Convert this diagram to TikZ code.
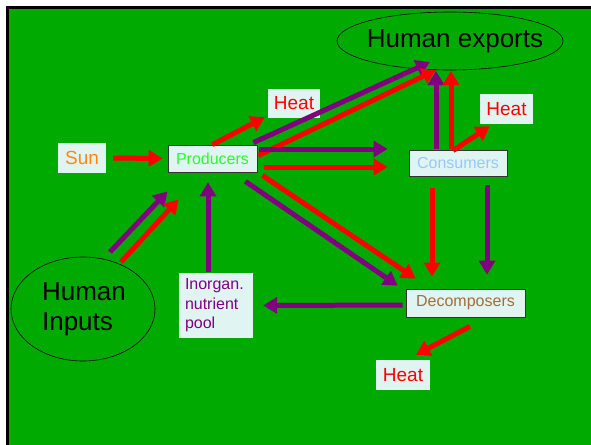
\documentclass[tikz,border=0pt]{standalone}
\usepackage{fontspec}
\setmainfont{Liberation Sans}
\usetikzlibrary{arrows.meta,calc,shapes.geometric}
\definecolor{bggreen}{RGB}{0,170,0}
\definecolor{boxfill}{RGB}{224,245,242}
\definecolor{flowpurple}{RGB}{128,0,128}
\definecolor{sunorange}{RGB}{255,136,17}
\definecolor{prodgreen}{RGB}{40,255,40}
\definecolor{conblue}{RGB}{150,200,255}
\definecolor{decbrown}{RGB}{160,110,60}
\begin{document}
\begin{tikzpicture}[x=1pt,y=1pt,yscale=-1,
  flow/.style={line width=5pt,-{Triangle[length=14pt,width=16pt]}},
  rd/.style={flow,draw=red},
  pp/.style={flow,draw=flowpurple},
  box/.style={fill=boxfill,draw=black!80,line width=0.8pt,inner sep=0pt,font=\fontsize{16}{19}\selectfont},
  tag/.style={fill=boxfill,inner sep=0pt,font=\fontsize{19}{22}\selectfont},
  bigtext/.style={inner sep=0pt,font=\fontsize{26}{30}\selectfont},
  rim/.style={draw=black,line width=0.6pt}]
\useasboundingbox (0,0) rectangle (591,444);
\clip (0,0) rectangle (591,444);
\draw [fill=bggreen,line width=2.5pt] (7.5,7.5) rectangle (620,470);
% boxes
\node [tag,text=sunorange,minimum width=48,minimum height=30] (sun) at (82,158) {Sun};
\node [box,text=prodgreen,minimum width=89,minimum height=27] (prod) at (212.5,158.5) {Producers};
\node [tag,text=red,minimum width=52,minimum height=29] (heatA) at (294,103.5) {Heat};
\node [bigtext] (exports) at (450,41) {\hspace{10pt}Human exports};
\draw [rim] (exports.center) ellipse [x radius=113, y radius=29];
\node [tag,text=red,minimum width=53,minimum height=30] (heatB) at (506.5,109) {Heat};
\node [box,text=conblue,minimum width=98,minimum height=26] (cons) at (458,163) {Consumers};
\node [box,text=decbrown,minimum width=119,minimum height=28] (decomp) at (465.5,303) {Decomposers};
\node [tag,text=red,minimum width=54,minimum height=30] (heatC) at (403,375) {Heat};
\node [fill=boxfill,text=flowpurple,inner xsep=6pt,inner ysep=0pt,text width=62pt,minimum height=65,align=left,
  font=\fontsize{16}{19.5}\selectfont] (pool) at (216,305.5) {Inorgan.\\nutrient\\pool};
\node [bigtext,align=left] (inputs) at (84,309) {Human\\Inputs};
\draw [rim] (83,309) ellipse [x radius=72, y radius=52];
% energy and matter flows
\draw [rd,shorten <=7pt,shorten >=5pt] (sun.east) -- (prod.west);
\draw [rd] (prod.north) -- ($(heatA.south west)+(-3,-1)$);
\draw [pp] ($(prod.north east)+(-4,-2)$) -- ($(exports.center)+(-20,21)$);
\draw [rd] ($(prod.east)+(1,-3)$) -- ($(exports.center)+(-14,29)$);
\draw [pp] ($(prod.east)+(2,-9.5)$) -- ($(cons.west)+(-21,-14)$);
\draw [rd] ($(prod.east)+(7,8.5)$) -- ($(cons.west)+(-21,4)$);
\draw [pp] ($(prod.south east)+(-12,9)$) -- ($(decomp.north west)+(-8,-3)$);
\draw [rd] ($(prod.south east)+(5,3)$) -- ($(decomp.north west)+(10,-10)$);
\draw [pp] ($(cons.north)+(-22,-1)$) -- ($(exports.center)+(-14,30)$);
\draw [rd] ($(cons.north)+(-7,-1)$) -- ($(exports.center)+(1,30)$);
\draw [rd] ($(cons.north)+(-5,1)$) -- ($(heatB.south west)+(10,2)$);
\draw [rd] ($(cons.south)+(-26,12)$) -- ($(decomp.north)+(-33.5,-12)$);
\draw [pp] ($(cons.south)+(29,9)$) -- ($(decomp.north)+(21.5,-14)$);
\draw [pp] ($(decomp.west)+(-3,2)$) -- ($(pool.east)+(10,0)$);
\draw [rd] ($(decomp.south)+(4.5,9)$) -- ($(heatC.north)+(13,-5)$);
\draw [pp] ($(inputs.center)+(26,-57)$) -- ($(prod.south west)+(0,19)$);
\draw [rd] ($(inputs.center)+(37,-47)$) -- ($(prod.south west)+(11,27)$);
\draw [pp] ($(pool.north)+(-8,-1)$) -- ($(prod.south)+(-4.5,10)$);
\end{tikzpicture}
\end{document}
